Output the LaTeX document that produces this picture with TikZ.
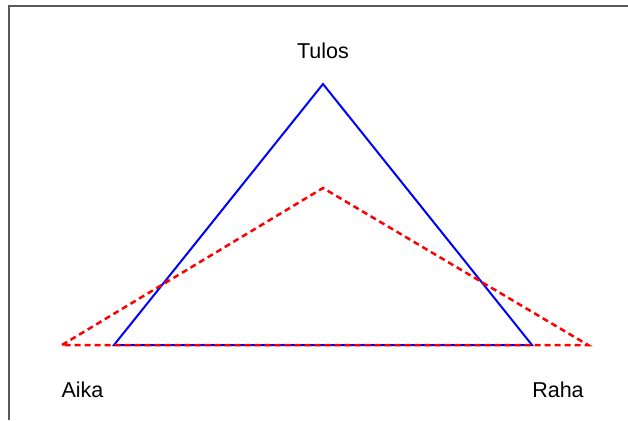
\documentclass[tikz,border=0pt]{standalone}
\usepackage{fontspec}
\setmainfont{Liberation Sans}
\begin{document}
\begin{tikzpicture}[x=1pt,y=-1pt,
  lbl/.style={font=\fontsize{21.5}{25}\selectfont, text=black, inner sep=0pt},
  bluetri/.style={draw=blue, line width=2pt, line join=miter},
  redtri/.style={draw=red, line width=2.5pt, dash pattern=on 6pt off 4pt},
  framel/.style={draw=black!65, line width=2pt}]
\useasboundingbox (0,0) rectangle (628,420);
\coordinate (fa) at (9,420);
\coordinate (fb) at (9,6);
\coordinate (fc) at (628,6);
\draw[framel] (fa) -- (fb) -- (fc);
\coordinate (bt) at (323,84);
\coordinate (bl) at (114,345);
\coordinate (br) at (532,345);
\coordinate (rt) at (323,188);
\coordinate (rl) at (62,345);
\coordinate (rr) at (588,345);
\draw[bluetri] (bt) -- (br) -- (bl) -- cycle;
\draw[redtri] (rl) -- (rt) -- (rr) -- cycle;
\node[lbl] (tulos) at (323,51) {Tulos};
\node[lbl] (aika) at (82.5,390) {Aika};
\node[lbl] (raha) at (558,390) {Raha};
\end{tikzpicture}
\end{document}
